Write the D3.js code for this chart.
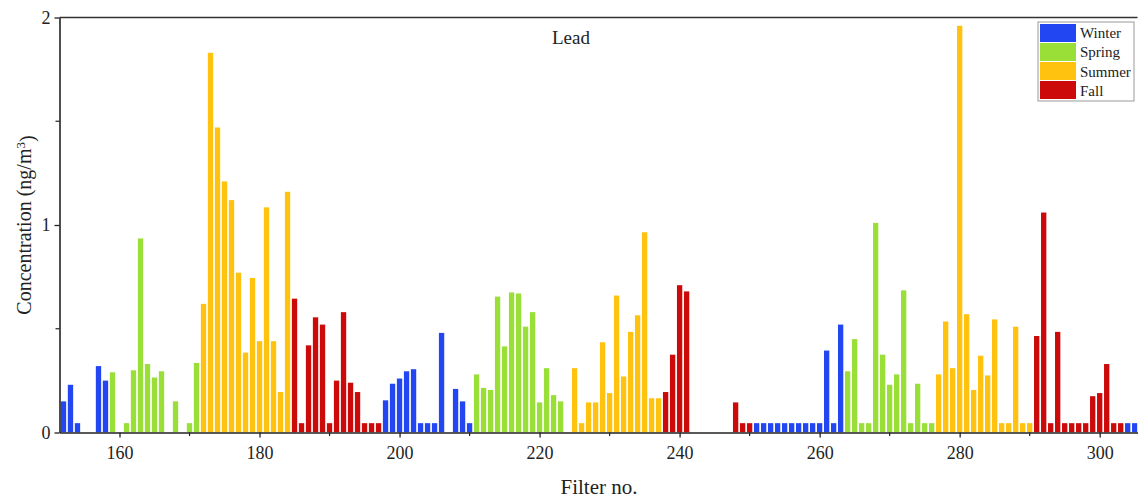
<!DOCTYPE html>
<html>
<head>
<meta charset="utf-8">
<script src="https://cdn.jsdelivr.net/npm/d3@7"></script>
<style>
  html, body { margin: 0; padding: 0; background: #fff; }
  svg { display: block; }
  svg text { font-family: "Liberation Serif", Tinos, "Times New Roman", Times, "DejaVu Serif", serif !important; fill: #222; }
</style>
</head>
<body>
<svg id="chart" width="1138" height="500"></svg>
<script>
// Lead concentration per filter, coloured by sampling season
const filters = [
  152, 153, 154, 157, 158, 159, 161, 162, 163, 164, 165, 166, 168, 170, 171,
  172, 173, 174, 175, 176, 177, 178, 179, 180, 181, 182, 183, 184,
  185, 186, 187, 188, 189, 190, 191, 192, 193, 194, 195, 196, 197,
  198, 199, 200, 201, 202, 203, 204, 205, 206, 208, 209, 210,
  211, 212, 213, 214, 215, 216, 217, 218, 219, 220, 221, 222, 223,
  225, 226, 227, 228, 229, 230, 231, 232, 233, 234, 235, 236, 237,
  238, 239, 240, 241, 248, 249, 250,
  251, 252, 253, 254, 255, 256, 257, 258, 259, 260, 261, 262, 263,
  264, 265, 266, 267, 268, 269, 270, 271, 272, 273, 274, 275, 276,
  277, 278, 279, 280, 281, 282, 283, 284, 285, 286, 287, 288, 289, 290,
  291, 292, 293, 294, 295, 296, 297, 298, 299, 300, 301, 302, 303,
  304, 305
];
const values = [
  0.15, 0.23, 0.045, 0.32, 0.25, 0.29, 0.045, 0.30, 0.935, 0.33, 0.265, 0.295, 0.15, 0.045, 0.335,
  0.62, 1.83, 1.47, 1.21, 1.12, 0.77, 0.385, 0.745, 0.44, 1.085, 0.44, 0.195, 1.16,
  0.645, 0.045, 0.42, 0.555, 0.52, 0.045, 0.25, 0.58, 0.24, 0.195, 0.045, 0.045, 0.045,
  0.155, 0.235, 0.26, 0.295, 0.305, 0.045, 0.045, 0.045, 0.48, 0.21, 0.15, 0.045,
  0.28, 0.215, 0.205, 0.655, 0.415, 0.675, 0.67, 0.51, 0.58, 0.145, 0.31, 0.18, 0.15,
  0.31, 0.045, 0.145, 0.145, 0.435, 0.19, 0.66, 0.27, 0.485, 0.565, 0.965, 0.165, 0.165,
  0.195, 0.375, 0.71, 0.68, 0.145, 0.045, 0.045,
  0.045, 0.045, 0.045, 0.045, 0.045, 0.045, 0.045, 0.045, 0.045, 0.045, 0.395, 0.045, 0.52,
  0.295, 0.45, 0.045, 0.045, 1.01, 0.375, 0.23, 0.28, 0.685, 0.045, 0.235, 0.045, 0.045,
  0.28, 0.535, 0.31, 1.96, 0.57, 0.205, 0.37, 0.275, 0.545, 0.045, 0.045, 0.51, 0.045, 0.045,
  0.465, 1.06, 0.045, 0.485, 0.045, 0.045, 0.045, 0.045, 0.175, 0.19, 0.33, 0.045, 0.045,
  0.045, 0.045
];
// season of each filter, listed run by run
const seasons = [].concat(
  Array(5).fill("Winter"),
  Array(10).fill("Spring"),
  Array(13).fill("Summer"),
  Array(13).fill("Fall"),
  Array(12).fill("Winter"),
  Array(13).fill("Spring"),
  Array(13).fill("Summer"),
  Array(7).fill("Fall"),
  Array(13).fill("Winter"),
  Array(13).fill("Spring"),
  Array(14).fill("Summer"),
  Array(13).fill("Fall"),
  Array(2).fill("Winter")
);
const seasonNames = ["Winter", "Spring", "Summer", "Fall"];
const seasonColors = ["#2146f2", "#9ade38", "#ffc20e", "#cc0a0a"];
const yTicks = [0, 1, 2];
const xTicks = [160, 180, 200, 220, 240, 260, 280, 300];

(function () {
  const FONT = '"Liberation Serif", Tinos, "Times New Roman", Times, "DejaVu Serif", serif';
  const data = filters.map((f, i) => ({ filter: f, value: values[i], season: seasons[i] }));

  const svg = d3.select("#chart");
  const mLeft = 59.5, mRight = 1137.5, mTop = 17.5, mBottom = 432.5;

  const x = d3.scaleLinear().domain([151.43, 305.4]).range([mLeft, mRight]);
  const y = d3.scaleLinear().domain([0, 2]).range([mBottom, mTop]);
  const color = d3.scaleOrdinal().domain(seasonNames).range(seasonColors);
  const barW = (x(1) - x(0)) * 0.76;

  svg.append("defs").append("clipPath").attr("id", "plot-clip")
    .append("rect").attr("x", mLeft).attr("y", mTop)
    .attr("width", mRight - mLeft).attr("height", mBottom - mTop);

  // bars
  svg.append("g").attr("clip-path", "url(#plot-clip)")
    .selectAll("rect").data(data).join("rect")
    .attr("x", d => x(d.filter) - barW / 2)
    .attr("width", barW)
    .attr("y", d => y(d.value))
    .attr("height", d => y(0) - y(d.value))
    .attr("fill", d => color(d.season));

  // top frame line
  svg.append("line")
    .attr("x1", mLeft).attr("x2", mRight).attr("y1", mTop).attr("y2", mTop)
    .attr("stroke", "#333").attr("stroke-width", 1.3);

  // x axis: major ticks labelled, minor ticks halfway between
  const xMinor = xTicks.map(t => t + 10).filter(t => t < 305.4);
  const xAxis = d3.axisBottom(x).tickValues(xTicks).tickFormat(d3.format("d"))
    .tickSize(5).tickSizeOuter(0);
  const gx = svg.append("g").attr("transform", `translate(0,${mBottom})`).call(xAxis)
    .attr("font-family", FONT);
  gx.select(".domain").attr("stroke", "#222").attr("stroke-width", 1.6);
  gx.selectAll(".tick line").attr("stroke", "#222").attr("stroke-width", 1.3);
  gx.selectAll(".tick text").attr("dy", "1.05em").style("font-size", "18px");
  gx.selectAll(".minor").data(xMinor).join("line").attr("class", "minor")
    .attr("x1", d => x(d)).attr("x2", d => x(d)).attr("y1", 0).attr("y2", 3.5)
    .attr("stroke", "#222").attr("stroke-width", 1.2);

  // y axis
  const yAxis = d3.axisLeft(y).tickValues(yTicks).tickFormat(d3.format("d"))
    .tickSize(5).tickSizeOuter(0);
  const gy = svg.append("g").attr("transform", `translate(${mLeft},0)`).call(yAxis)
    .attr("font-family", FONT);
  gy.select(".domain").attr("stroke", "#222").attr("stroke-width", 1.6);
  gy.selectAll(".tick line").attr("stroke", "#222").attr("stroke-width", 1.3);
  gy.selectAll(".tick text").attr("x", -9).style("font-size", "18px");
  gy.selectAll(".minor").data([0.5, 1.5]).join("line").attr("class", "minor")
    .attr("x1", -4).attr("x2", 0).attr("y1", d => y(d)).attr("y2", d => y(d))
    .attr("stroke", "#222").attr("stroke-width", 1.2);

  // axis titles
  svg.append("text")
    .attr("x", 599).attr("y", 494)
    .attr("text-anchor", "middle")
    .attr("font-family", FONT)
    .style("font-size", "21px")
    .text("Filter no.");

  const yTitle = svg.append("text")
    .attr("transform", `translate(31,${(mTop + mBottom) / 2}) rotate(-90)`)
    .attr("text-anchor", "middle")
    .attr("font-family", FONT)
    .style("font-size", "20px");
  yTitle.append("tspan").text("Concentration (ng/m");
  yTitle.append("tspan").attr("dy", "-0.45em").style("font-size", "13px").text("3");
  yTitle.append("tspan").attr("dy", "0.45em").text(")");

  // chart title
  svg.append("text")
    .attr("x", 571).attr("y", 44)
    .attr("text-anchor", "middle")
    .attr("font-family", FONT)
    .style("font-size", "19px")
    .text("Lead");

  // legend
  const lg = svg.append("g").attr("transform", "translate(1038,22)").attr("font-family", FONT);
  lg.append("rect").attr("x", 0).attr("y", 0).attr("width", 96).attr("height", 79)
    .attr("fill", "#fff").attr("stroke", "#999").attr("stroke-width", 1);
  seasonNames.forEach((s, i) => {
    lg.append("rect").attr("x", 2).attr("y", 2 + i * 19).attr("width", 36).attr("height", 18)
      .attr("fill", color(s));
    lg.append("text").attr("x", 42).attr("y", 16 + i * 19.3)
      .style("font-size", "15px").text(s);
  });
})();
</script>
</body>
</html>
